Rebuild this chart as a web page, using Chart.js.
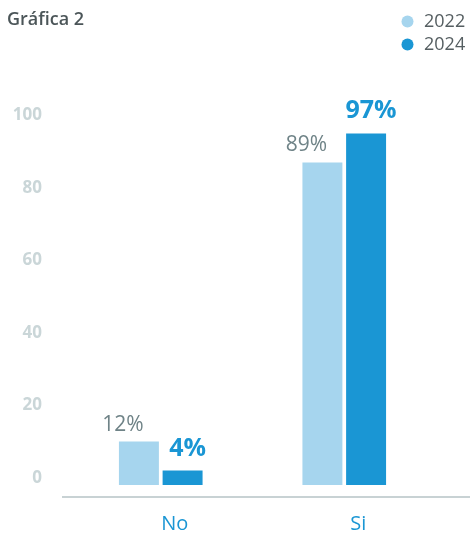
<!DOCTYPE html>
<html>
<head>
<meta charset="utf-8">
<script src="https://cdn.jsdelivr.net/npm/chart.js@4"></script>
<style>
  body { margin: 0; background: #fff; }
  canvas { display: block; }
</style>
</head>
<body>
<canvas id="grafica" width="470" height="536"></canvas>
<script>
// Datos
const categorias = ["No", "Si"];
const series = ["2022", "2024"];
const valores2022 = [12, 89];
const valores2024 = [4, 97];
const marcasY = [0, 20, 40, 60, 80, 100];

const azulClaro = "#a6d5ee";
const azulOscuro = "#1a96d4";
const fuente = "'Open Sans', sans-serif";

// Leyenda arriba a la derecha, un elemento por linea
const leyenda = {
    id: "leyenda",
    afterDraw(chart) {
        const ctx = chart.ctx;
        ctx.save();
        chart.data.datasets.forEach((ds, i) => {
            const y = 21.5 + i * 23;
            ctx.fillStyle = ds.backgroundColor;
            ctx.beginPath();
            ctx.arc(407.5, y, 6, 0, Math.PI * 2);
            ctx.fill();
            ctx.fillStyle = "#555e61";
            ctx.font = "18px " + fuente;
            ctx.textBaseline = "middle";
            ctx.textAlign = "left";
            ctx.fillText(ds.label, 424, y);
        });
        ctx.restore();
    }
};

// Linea base que sobresale del area del grafico
const lineaBase = {
    id: "lineaBase",
    beforeDatasetsDraw(chart) {
        const ctx = chart.ctx;
        const y = chart.chartArea.bottom;
        ctx.save();
        ctx.strokeStyle = "#c8d2d4";
        ctx.lineWidth = 2;
        ctx.beginPath();
        ctx.moveTo(chart.chartArea.left - 7, y);
        ctx.lineTo(chart.width, y);
        ctx.stroke();
        ctx.restore();
    }
};

// Etiquetas de porcentaje encima de las barras
const etiquetas = {
    id: "etiquetas",
    afterDatasetsDraw(chart) {
        const ctx = chart.ctx;
        ctx.save();
        ctx.textAlign = "center";
        ctx.textBaseline = "alphabetic";
        chart.data.datasets.forEach((ds, i) => {
            const meta = chart.getDatasetMeta(i);
            meta.data.forEach((barra, j) => {
                const texto = ds.data[j] + "%";
                if (i === 0) {
                    ctx.font = "21px " + fuente;
                    ctx.fillStyle = "#6f8387";
                    ctx.fillText(texto, barra.x - 16, barra.y - 11);
                } else {
                    ctx.font = "bold 25px " + fuente;
                    ctx.fillStyle = azulOscuro;
                    ctx.fillText(texto, barra.x + 5, barra.y - 15);
                }
            });
        });
        ctx.restore();
    }
};

const datos = {
    labels: categorias,
    datasets: [
        {
            label: series[0],
            data: valores2022,
            backgroundColor: azulClaro,
            categoryPercentage: 0.476,
            barPercentage: 0.915
        },
        {
            label: series[1],
            data: valores2024,
            backgroundColor: azulOscuro,
            categoryPercentage: 0.476,
            barPercentage: 0.915
        }
    ]
};

new Chart(document.getElementById("grafica"), {
    type: "bar",
    data: datos,
    options: {
        responsive: false,
        animation: false,
        layout: { padding: { left: 7, right: 34, top: 0, bottom: 0 } },
        plugins: {
            legend: { display: false },
            tooltip: { enabled: false },
            title: {
                display: true,
                text: "Gráfica 2",
                align: "start",
                color: "#4b5558",
                font: { family: fuente, size: 18, weight: "600" },
                padding: { top: 9, bottom: 92 }
            }
        },
        scales: {
            x: {
                grid: { display: false, drawTicks: false },
                border: { display: false },
                afterFit(scale) {
                    scale.height = 39;
                },
                ticks: {
                    color: azulOscuro,
                    font: { family: fuente, size: 20 },
                    padding: 15,
                    labelOffset: 14
                }
            },
            y: {
                min: -3.29,
                max: 100,
                grid: { display: false, drawTicks: false },
                border: { display: false },
                afterBuildTicks(scale) {
                    scale.ticks = marcasY.map(v => ({ value: v }));
                },
                afterFit(scale) {
                    scale.width = 62;
                    scale.paddingTop = 0;
                    scale.paddingBottom = 0;
                },
                ticks: {
                    color: "#cad6d8",
                    font: { family: fuente, size: 17, weight: "bold" },
                    padding: 27,
                    labelOffset: -7
                }
            }
        }
    },
    plugins: [lineaBase, etiquetas, leyenda]
});
</script>
</body>
</html>
